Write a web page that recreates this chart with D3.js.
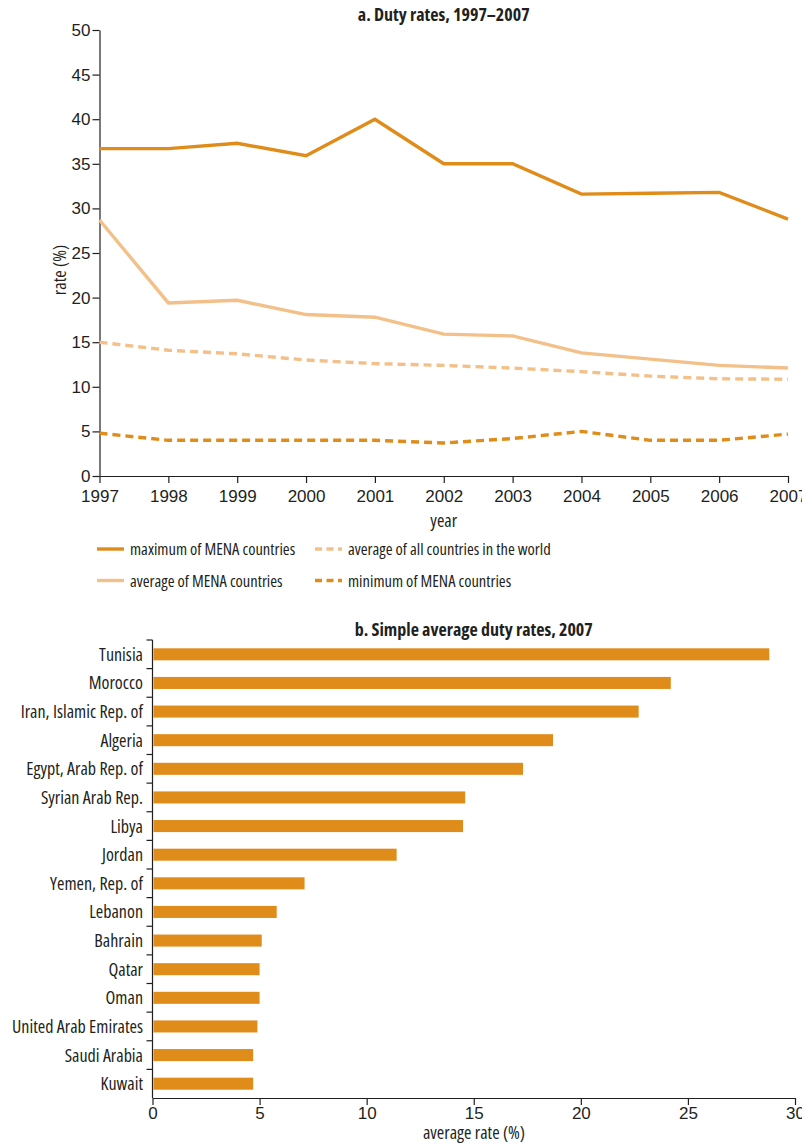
<!DOCTYPE html>
<html>
<head>
<meta charset="utf-8">
<script src="https://cdn.jsdelivr.net/npm/d3@7"></script>
<style>
  body { margin: 0; background: #fff; }
  svg { font-family: "Open Sans", "DejaVu Sans Condensed", sans-serif; font-stretch: 80%; }
  .axis path, .axis line { stroke: #231f20; stroke-width: 1.2; }
  .axis text { fill: #231f20; font-size: 17px; font-family: inherit; font-stretch: 77%; }
  .axis text.cat { font-size: 18px; font-stretch: 84%; }
  .title { font-weight: bold; font-size: 18px; fill: #231f20; }
  .label { font-size: 18px; fill: #231f20; }
  .legend text { font-size: 16.5px; font-stretch: 75%; fill: #231f20; }
</style>
</head>
<body>
<svg id="chart" width="802" height="1148"></svg>
<script>
// panel a data
const years = [1997, 1998, 1999, 2000, 2001, 2002, 2003, 2004, 2005, 2006, 2007];
const maxMena = [36.7, 36.7, 37.3, 35.9, 40.0, 35.0, 35.0, 31.6, 31.7, 31.8, 28.8];
const avgMena = [28.7, 19.4, 19.7, 18.1, 17.8, 15.9, 15.7, 13.8, 13.1, 12.4, 12.1];
const avgWorld = [15.0, 14.1, 13.7, 13.0, 12.6, 12.4, 12.1, 11.7, 11.2, 10.9, 10.85];
const minMena = [4.8, 4.0, 4.0, 4.0, 4.0, 3.7, 4.2, 5.0, 4.0, 4.0, 4.7];
const yTicksA = [0, 5, 10, 15, 20, 25, 30, 35, 40, 45, 50];

// panel b data
const countries = ["Tunisia", "Morocco", "Iran, Islamic Rep. of", "Algeria", "Egypt, Arab Rep. of",
  "Syrian Arab Rep.", "Libya", "Jordan", "Yemen, Rep. of", "Lebanon", "Bahrain", "Qatar",
  "Oman", "United Arab Emirates", "Saudi Arabia", "Kuwait"];
const rates2007 = [28.8, 24.2, 22.7, 18.7, 17.3, 14.6, 14.5, 11.4, 7.1, 5.8, 5.1, 5.0, 5.0, 4.9, 4.7, 4.7];
const xTicksB = [0, 5, 10, 15, 20, 25, 30];

const dark = "#e08c1a";
const light = "#f2c088";

const series = [
  { name: "maximum of MENA countries", values: maxMena, color: dark, dash: null },
  { name: "average of  MENA countries", values: avgMena, color: light, dash: null },
  { name: "average of all countries in the world", values: avgWorld, color: light, dash: "8,5" },
  { name: "minimum of MENA countries", values: minMena, color: dark, dash: "8,5" }
];

const svg = d3.select("#chart");

// ---- panel a ----
const a = { left: 99.5, right: 788, top: 30, bottom: 476 };
const x = d3.scaleLinear().domain([1997, 2007]).range([a.left, a.right]);
const y = d3.scaleLinear().domain([0, 50]).range([a.bottom, a.top]);

svg.append("text").attr("class", "title")
  .attr("x", (a.left + a.right) / 2).attr("y", 21)
  .attr("text-anchor", "middle").text("a. Duty rates, 1997\u20132007");

svg.append("g").attr("class", "axis")
  .attr("transform", `translate(${a.left},0)`)
  .call(d3.axisLeft(y).tickValues(yTicksA).tickSize(7).tickSizeOuter(0).tickPadding(2));

svg.append("g").attr("class", "axis")
  .attr("transform", `translate(0,${a.bottom})`)
  .call(d3.axisBottom(x).tickValues(years).tickFormat(d3.format("d")).tickSize(7).tickSizeOuter(0).tickPadding(7));

svg.append("text").attr("class", "label")
  .attr("transform", `translate(66,270) rotate(-90)`)
  .attr("text-anchor", "middle").text("rate (%)");

svg.append("text").attr("class", "label")
  .attr("x", (a.left + a.right) / 2).attr("y", 527)
  .attr("text-anchor", "middle").text("year");

const line = d3.line().x((d, i) => x(years[i])).y(d => y(d));

svg.append("g").selectAll("path")
  .data(series.slice().reverse()).enter()
  .append("path")
  .attr("d", d => line(d.values))
  .attr("fill", "none")
  .attr("stroke", d => d.color)
  .attr("stroke-width", 3.4)
  .attr("stroke-dasharray", d => d.dash);

// legend
const legendPos = [[97, 549], [97, 580.5], [315, 549], [315, 580.5]];
const legend = svg.append("g").attr("class", "legend").selectAll("g")
  .data(series).enter()
  .append("g")
  .attr("transform", (d, i) => `translate(${legendPos[i][0]},${legendPos[i][1]})`);
legend.append("line")
  .attr("x1", 0).attr("x2", 27).attr("y1", 0).attr("y2", 0)
  .attr("stroke", d => d.color).attr("stroke-width", 3.4)
  .attr("stroke-dasharray", d => d.dash ? "7,4.5" : null);
legend.append("text")
  .attr("x", 33).attr("y", 6).text(d => d.name);

// ---- panel b ----
const b = { left: 152.5, right: 795, top: 640, bottom: 1098 };
const xb = d3.scaleLinear().domain([0, 30]).range([b.left, b.right]);
const yb = d3.scaleBand().domain(countries).range([b.top, b.bottom]).paddingInner(0.58).paddingOuter(0.29);

svg.append("text").attr("class", "title")
  .attr("x", (b.left + b.right) / 2).attr("y", 636)
  .attr("text-anchor", "middle").text("b. Simple average duty rates, 2007");

svg.append("g").selectAll("rect")
  .data(countries).enter()
  .append("rect")
  .attr("x", xb(0) + 1)
  .attr("y", d => yb(d))
  .attr("width", (d, i) => xb(rates2007[i]) - xb(0) - 1)
  .attr("height", yb.bandwidth())
  .attr("fill", dark);

// y axis with ticks at category boundaries
const yAxisB = svg.append("g").attr("class", "axis");
yAxisB.append("line")
  .attr("x1", b.left).attr("x2", b.left).attr("y1", b.top).attr("y2", b.bottom);
const step = yb.step();
yAxisB.selectAll("line.tick")
  .data(d3.range(countries.length)).enter()
  .append("line").attr("class", "tick")
  .attr("x1", b.left - 6).attr("x2", b.left)
  .attr("y1", i => b.top + i * step).attr("y2", i => b.top + i * step);
yAxisB.selectAll("text")
  .data(countries).enter()
  .append("text").attr("class", "cat")
  .attr("x", b.left - 9.5)
  .attr("y", d => yb(d) + yb.bandwidth() / 2)
  .attr("dy", "0.36em")
  .attr("text-anchor", "end")
  .text(d => d);

svg.append("g").attr("class", "axis")
  .attr("transform", `translate(0,${b.bottom})`)
  .call(d3.axisBottom(xb).tickValues(xTicksB).tickSize(7).tickSizeOuter(0).tickPadding(2));

svg.append("text").attr("class", "label")
  .attr("x", 474).attr("y", 1139)
  .attr("text-anchor", "middle").text("average rate (%)");
</script>
</body>
</html>
